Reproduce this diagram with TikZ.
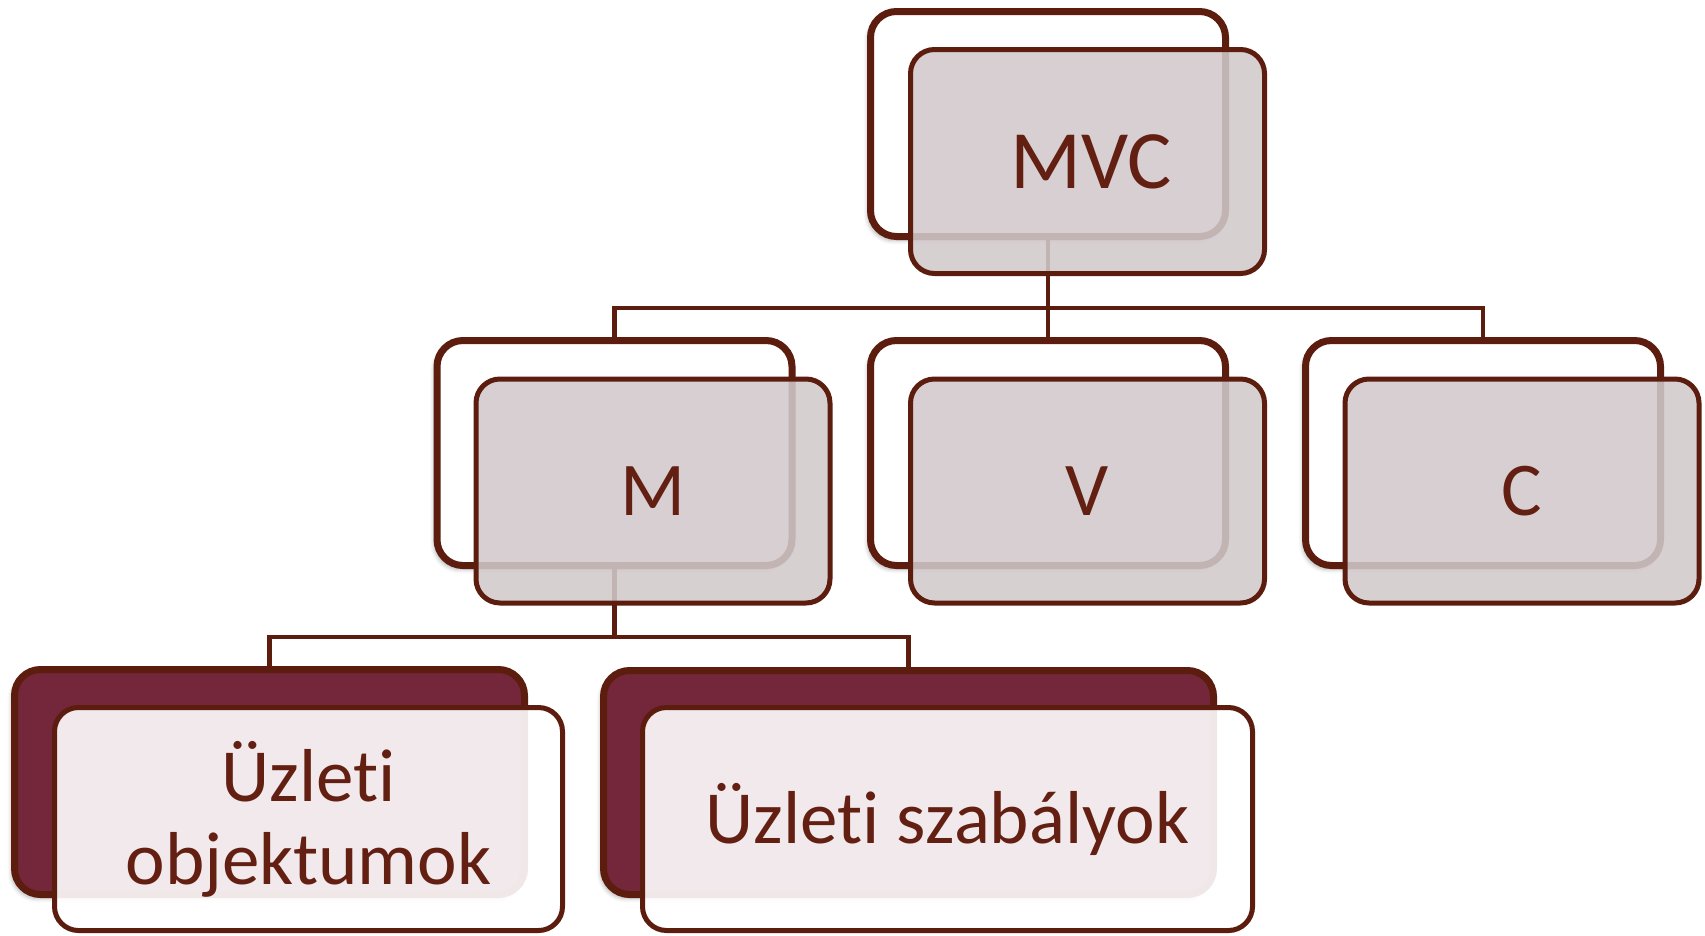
\documentclass[tikz,border=0pt]{standalone}
\usepackage{fontspec}
\setmainfont{Carlito}[Ligatures={NoCommon}]
\usetikzlibrary{shadows.blur}
\definecolor{edge}{RGB}{92,29,15}
\definecolor{txt}{RGB}{99,31,18}
\definecolor{maroonfill}{RGB}{116,38,58}
\definecolor{greyfill}{RGB}{210,201,203}
\begin{document}
\begin{tikzpicture}[x=1pt,y=-1pt,
  backbox/.style={draw=edge, line width=7pt, rounded corners=26pt, fill=white,
    minimum width=355pt, minimum height=225pt, inner sep=0pt,
    blur shadow={shadow xshift=-3pt, shadow yshift=-4pt, shadow blur radius=4pt, shadow opacity=30}},
  darkback/.style={backbox, fill=maroonfill},
  frontbox/.style={draw=edge, line width=5pt, rounded corners=24pt, fill=greyfill,
    fill opacity=0.88, text opacity=1, draw opacity=1, minimum width=354pt, minimum height=224pt,
    inner sep=0pt, text=txt, font=\fontsize{76}{83}\selectfont, align=center},
  lightfront/.style={frontbox, fill=white, fill opacity=0.9, font=\fontsize{75}{83}\selectfont},
  conn/.style={draw=edge, line width=4.5pt}
]
\useasboundingbox (0,0) rectangle (1705,935);
% back boxes
\node[backbox] (mvcB) at (1048,124) {};
\node[backbox] (mB) at (614.5,453) {};
\node[backbox] (vB) at (1048,453) {};
\node[backbox] (cB) at (1483,453) {};
\node[darkback, minimum width=510pt, minimum height=225pt] (uoB) at (269.5,782) {};
\node[darkback, minimum width=610pt, minimum height=224pt] (usB) at (908.5,782.5) {};
% connectors
\coordinate (j1) at (1048,308);
\coordinate (j2) at (614.5,637);
\draw[conn] (mvcB.south) -- (vB.north);
\draw[conn] (mB.north) |- (j1) -| (cB.north);
\draw[conn] (mB.south) -- (j2);
\draw[conn] (uoB.north) |- (j2) -| (usB.north);
% front boxes
\node[frontbox, font=\fontsize{83}{90}\selectfont] (mvcF) at (1087.5,161.5) {\hspace{7pt}MVC};
\node[frontbox] (mF) at (653,491) {M};
\node[frontbox] (vF) at (1087.5,491) {V};
\node[frontbox] (cF) at (1522,491) {C};
\node[lightfront, minimum width=508pt, minimum height=223pt] (uoF) at (308.5,819) {Üzleti\\objektumok};
\node[lightfront, minimum width=610pt, minimum height=223pt] (usF) at (947.5,819) {Üzleti szabályok};
\end{tikzpicture}
\end{document}
